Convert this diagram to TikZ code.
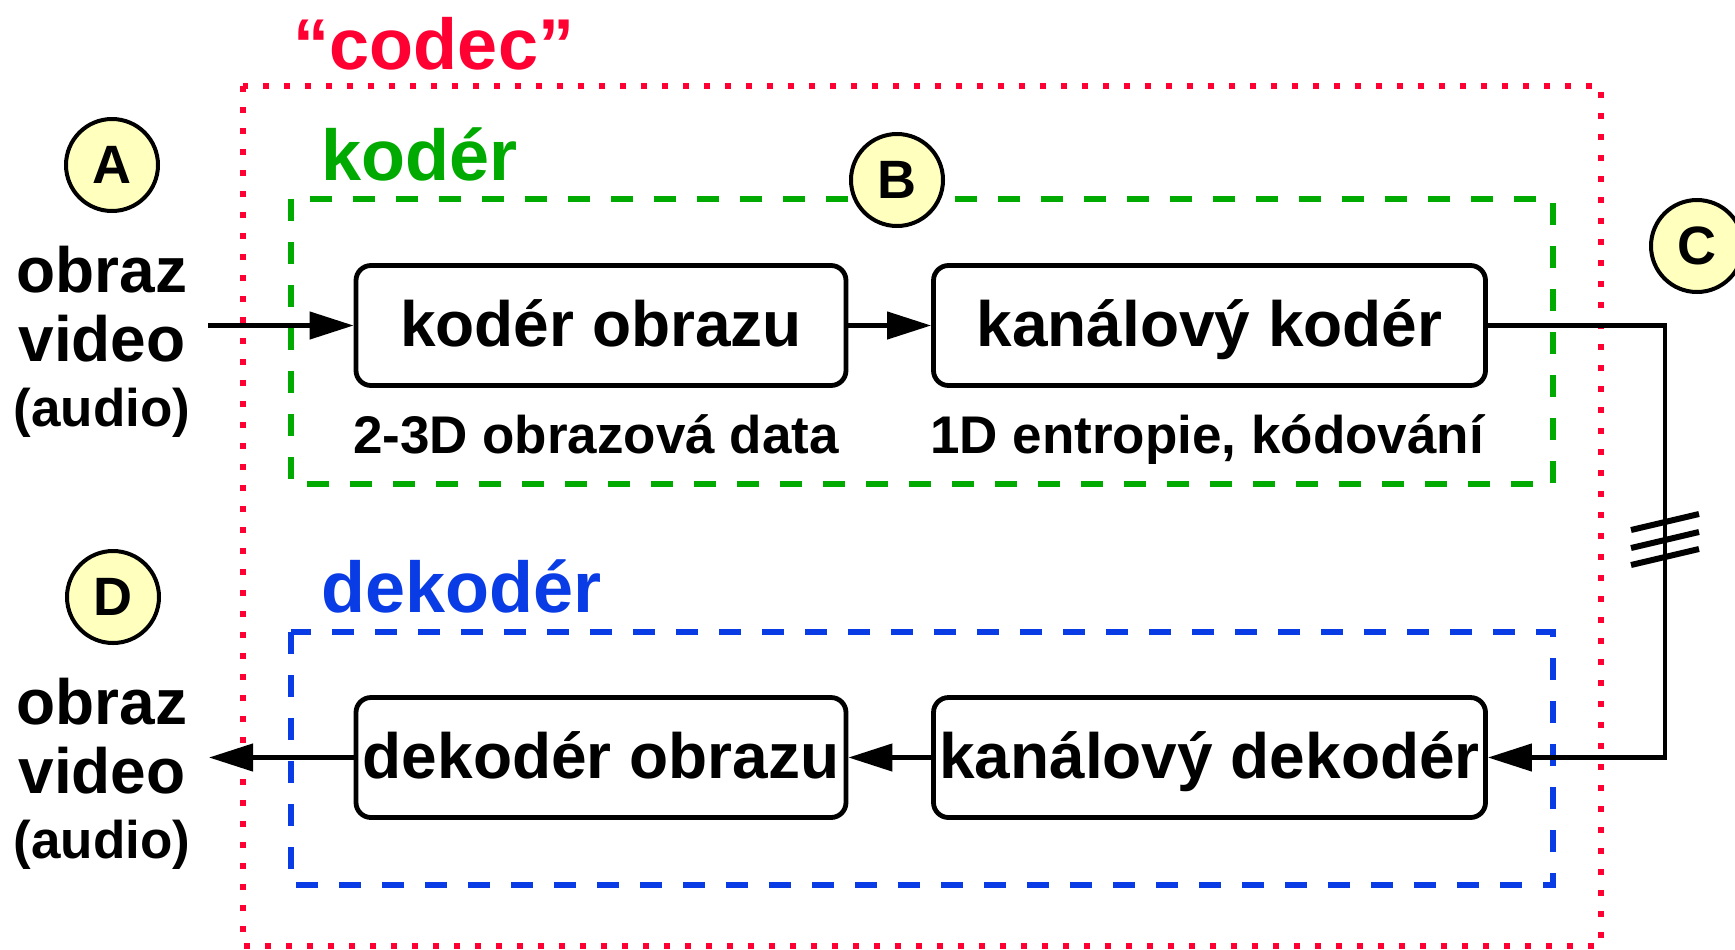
\documentclass[tikz,border=0pt]{standalone}
\usepackage{fontspec}
\setmainfont{Liberation Sans}
\usetikzlibrary{arrows.meta}
\definecolor{codecred}{RGB}{255,0,51}
\definecolor{kodgreen}{RGB}{0,170,0}
\definecolor{dekblue}{RGB}{10,60,230}
\definecolor{markfill}{RGB}{255,255,190}

\begin{document}
\begin{tikzpicture}[x=0.5pt,y=0.5pt]
    \tikzstyle{every node}+=[inner sep=0pt]
    \tikzstyle{blok}=[draw=black, line width=2.4pt, rounded corners=7.5pt, minimum width=245pt, minimum height=60pt, text height=24.5pt, text depth=4pt, font=\bfseries\fontsize{32}{38}\selectfont]
    \tikzstyle{znacka}=[circle, draw=black, line width=2pt, fill=markfill, minimum size=46pt, font=\bfseries\fontsize{27}{30}\selectfont]
    \tikzstyle{nadpis}=[font=\bfseries\fontsize{36}{40}\selectfont]
    \tikzstyle{popis}=[font=\bfseries\fontsize{26.5}{30}\selectfont]
    \tikzstyle{vstup}=[font=\bfseries\fontsize{32}{36}\selectfont]
    \tikzstyle{spoj}=[line width=2.2pt, -{Triangle[length=22pt,width=13.5pt]}]
    \useasboundingbox (0,0) rectangle (1735,-949);
    \draw [codecred, line width=3pt, dash pattern=on 3pt off 7.5pt] (243,-86) rectangle (1601,-946);
    \draw [kodgreen, line width=3pt, dash pattern=on 11pt off 10.5pt] (291,-199) rectangle (1553,-484);
    \draw [dekblue, line width=3pt, dash pattern=on 11pt off 10.5pt] (291,-632) rectangle (1553,-885);
    \node [nadpis, text=codecred, anchor=base] (codec) at (434,-69) {“codec”};
    \node [nadpis, text=kodgreen, anchor=base west] (koder) at (321,-180) {kodér};
    \node [nadpis, text=dekblue, anchor=base west] (dekoder) at (321,-612) {dekodér};
    \node [blok] (kobr) at (601,-325.5) {kodér obrazu};
    \node [blok, minimum width=276pt] (kkan) at (1209.5,-325.5) {kanálový kodér};
    \node [blok] (dobr) at (601,-757.5) {dekodér obrazu};
    \node [blok, minimum width=276pt] (dkan) at (1209.5,-757.5) {kanálový dekodér};
    \node [popis, anchor=base] (popis1) at (596,-453) {2-3D obrazová data};
    \node [popis, anchor=base] (popis2) at (1207,-453) {1D entropie, kódování};
    \node [vstup, anchor=base] (in1) at (102,-292) {obraz};
    \node [vstup, anchor=base] (in2) at (102,-361) {video};
    \node [popis, anchor=base] (in3) at (102,-426) {(audio)};
    \node [vstup, anchor=base] (out1) at (102,-724) {obraz};
    \node [vstup, anchor=base] (out2) at (102,-793) {video};
    \node [popis, anchor=base] (out3) at (102,-858) {(audio)};
    \node [znacka] (A) at (112,-165) {A};
    \node [znacka] (B) at (897,-180) {B};
    \node [znacka] (C) at (1697,-246) {C};
    \node [znacka] (D) at (113,-597) {D};
    \coordinate (vstup) at (208,-325.5);
    \coordinate (vystup) at (209,-757.5);
    \coordinate (kanal) at (1665,-540);
    \draw [spoj] (vstup) -- (kobr.west);
    \draw [spoj] (kobr) -- (kkan);
    \draw [spoj] (kkan.east) -| (kanal) |- (dkan.east);
    \draw [spoj] (dkan) -- (dobr);
    \draw [spoj] (dobr.west) -- (vystup);
    \foreach \d in {18,0,-17}
        \draw [line width=3pt] ([shift={(-34,\d-8)}]kanal) -- ([shift={(34,\d+8)}]kanal);
\end{tikzpicture}
\end{document}
